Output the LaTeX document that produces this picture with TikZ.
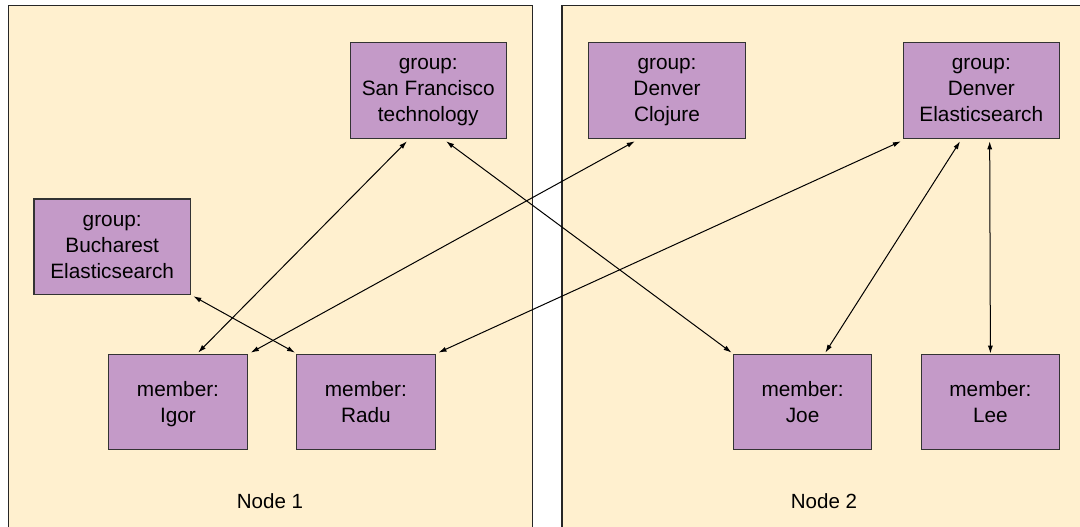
\documentclass[tikz,border=0pt]{standalone}
\usepackage{fontspec}
\setmainfont{Liberation Sans}
\usetikzlibrary{arrows.meta,calc}
\definecolor{panelfill}{HTML}{FFF0CF}
\definecolor{boxfill}{HTML}{C49AC8}
\definecolor{boxline}{HTML}{333333}
\newcommand{\tallstrut}{\rule{0pt}{17.8pt}}
\begin{document}
\begin{tikzpicture}[x=0.75pt,y=-0.75pt,
  panel/.style={draw=black!85,line width=0.9pt,fill=panelfill},
  doc/.style={draw=boxline,line width=0.9pt,fill=boxfill,rectangle,inner sep=0pt,
    minimum height=71.7pt,align=center,font=\fontsize{15.6}{19.5}\selectfont},
  widebox/.style={doc,minimum width=117.2pt},
  narrowbox/.style={doc,minimum width=103.9pt},
  panellabel/.style={font=\fontsize{15.4}{18}\selectfont},
  link/.style={line width=0.75pt,{Latex[length=6pt,width=3.8pt]}-{Latex[length=6pt,width=3.8pt]}}]
\useasboundingbox (0,0) rectangle (1080,527);
\clip (0,0) rectangle (1080,527);
\draw[panel] (8.6,5.7) rectangle (532.7,540);
\draw[panel] (562,5.7) rectangle (1090,540);
\node[panellabel] (n1) at (270,501) {Node 1};
\node[panellabel] (n2) at (824,501) {Node 2};
\node[widebox] (sf) at (428.25,90.6) {\strut group:\\\strut San Francisco\\\strut technology};
\node[widebox] (buc) at (112.2,246.8) {\strut group:\\\strut Bucharest\\\strut Elasticsearch};
\node[widebox] (clj) at (667,90.6) {\strut group:\\\strut Denver\\\strut Clojure};
\node[widebox] (des) at (981.3,90.6) {\strut group:\\\strut Denver\\\strut Elasticsearch};
\node[narrowbox] (igor) at (178,402) {\tallstrut member:\\\strut Igor};
\node[narrowbox] (radu) at (365.9,402) {\tallstrut member:\\\strut Radu};
\node[narrowbox] (joe) at (802.6,402) {\tallstrut member:\\\strut Joe};
\node[narrowbox] (lee) at (990.4,402) {\tallstrut member:\\\strut Lee};
\draw[link] ($(igor.north west)+(90,-1)$) -- ($(sf.south west)+(57.4,2.3)$);
\draw[link] ($(igor.north east)+(3,-1)$) -- ($(clj.south west)+(46.5,2.3)$);
\draw[link] ($(buc.south east)+(2.4,1)$) -- ($(radu.north west)+(-1,-1)$);
\draw[link] ($(radu.north east)+(2.7,-1)$) -- ($(des.south west)+(-1.7,2.3)$);
\draw[link] ($(sf.south west)+(96.6,2.3)$) -- ($(joe.north west)+(-1.2,-1)$);
\draw[link] ($(des.south west)+(57.5,2.3)$) -- ($(joe.north west)+(92.6,-1)$);
\draw[link] ($(des.south west)+(87.1,2.3)$) -- (lee.north);
\end{tikzpicture}
\end{document}
